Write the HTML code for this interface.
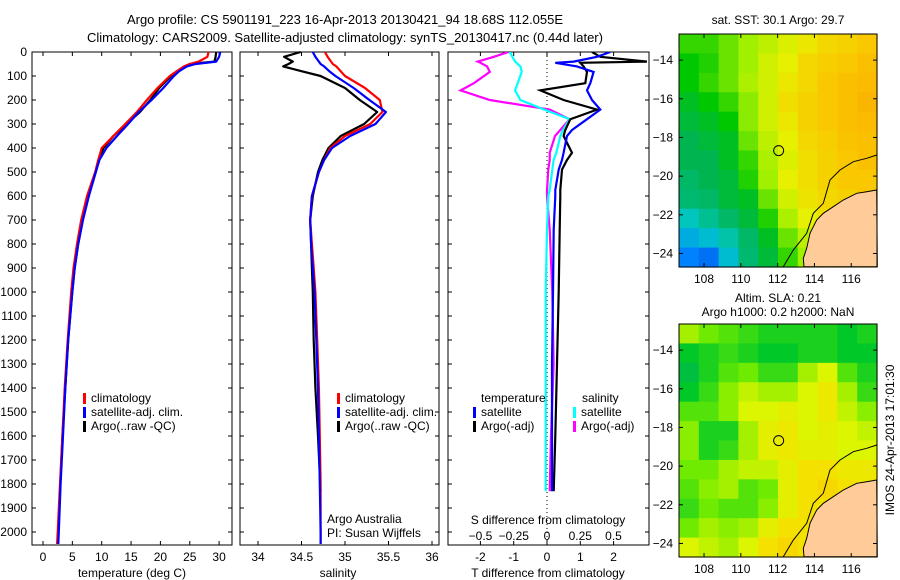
<!DOCTYPE html>
<html><head><meta charset="utf-8"><style>
body{margin:0;background:#fff}
svg{display:block;font-family:"Liberation Sans",sans-serif;font-size:12px}
</style></head><body>
<svg id="fig" width="900" height="580" xmlns="http://www.w3.org/2000/svg">
<text x="345" y="24" text-anchor="middle" font-size="13">Argo profile: CS 5901191_223 16-Apr-2013 20130421_94 18.68S 112.055E</text>
<text x="345" y="42" text-anchor="middle" font-size="13">Climatology: CARS2009. Satellite-adjusted climatology: synTS_20130417.nc (0.44d later)</text>
<g id="g"></g>
</svg>
<script>
// ---- profile data ----
const depthT=[0,20,40,50,60,80,100,150,200,250,300,350,400,450,500,600,700,800,900,1000,1200,1400,1600,1800,2000,2050];
const climT=[28.2,28,26.5,25,24,22.8,21.6,19.5,17.7,16,14,12,10,9.4,8.9,7.5,6.5,5.8,5.2,4.8,4.2,3.7,3.3,2.9,2.5,2.4];
const satT=[30.2,30,29.5,26,24.5,23.2,22.3,20.5,18.5,16.3,14.5,12.6,10.8,9.6,9,7.8,6.8,6,5.4,5,4.3,3.8,3.4,3,2.7,2.6];
const depthA=[0,20,40,50,60,80,100,150,200,250,300,350,400,450,500,600,700,800,900,1000,1200,1400,1600,1830];
const argoT=[29.5,29.4,29.2,25,24.2,23,21.8,19.8,18.3,16.5,14.2,12,10.3,9.5,9,7.8,6.8,6,5.4,5,4.3,3.8,3.3,2.9];
const climS=[34.77,34.8,34.84,34.86,34.9,34.95,35.0,35.23,35.4,35.43,35.29,35.0,34.83,34.76,34.7,34.62,34.6,34.62,34.64,34.66,34.68,34.7,34.71,34.72,34.72,34.72];
const satS=[34.63,34.66,34.7,34.72,34.76,34.82,34.89,35.1,35.28,35.47,35.35,35.06,34.85,34.76,34.7,34.62,34.6,34.61,34.63,34.65,34.67,34.69,34.7,34.71,34.72,34.72];
const argoS=[34.49,34.3,34.4,34.35,34.29,34.5,34.72,35.0,35.17,35.37,35.22,34.95,34.81,34.74,34.69,34.63,34.6,34.61,34.62,34.63,34.64,34.66,34.69,34.72];
const depthD=[0,20,40,45,60,83,130,160,200,240,280,325,350,420,450,490,575,600,740,1000,1300,1600,1830];
const satTd=[1.9,1.5,0.8,0.25,0.9,1.4,1.3,1.2,1.35,1.6,1.2,0.75,0.6,0.5,0.45,0.35,0.25,0.25,0.2,0.18,0.15,0.15,0.15];
const argoTd=[1.35,1.6,3.0,1.0,1.1,1.2,1.15,-0.2,0.5,1.5,0.7,0.55,0.5,0.75,0.6,0.45,0.4,0.4,0.38,0.35,0.3,0.25,0.2];
const satSd=[-0.28,-0.26,-0.24,-0.23,-0.2,-0.19,-0.22,-0.24,-0.2,-0.02,0.17,0.12,0.1,0.07,0.05,0.04,0.02,0.01,0,-0.01,-0.01,-0.01,-0.01];
const argoSd=[-0.29,-0.4,-0.52,-0.5,-0.45,-0.43,-0.55,-0.65,-0.43,0.02,0.17,0.1,0.06,0.02,0.02,0.01,0,0,0.02,0.04,0.05,0.03,0.02];
const tempTicks=[0,5,10,15,20,25,30];
const salTicks=[34,34.5,35,35.5,36];
const tdTicks=[-2,-1,0,1,2];
const sdTicks=[-0.5,-0.25,0,0.25,0.5];
const depthTicks=[0,100,200,300,400,500,600,700,800,900,1000,1100,1200,1300,1400,1500,1600,1700,1800,1900,2000];
// ---- map data (colour index 0..1, rows north->south) ----
const sstGrid=[
[.5,.5,.55,.6,.65,.7,.75,.8,.82,.85],[.45,.48,.55,.6,.68,.72,.8,.83,.85,.88],[.45,.5,.55,.62,.68,.75,.8,.85,.88,.9],
[.42,.45,.5,.58,.68,.78,.82,.85,.88,.92],[.4,.42,.45,.58,.68,.75,.82,.85,.88,.9],[.38,.4,.42,.55,.65,.72,.8,.83,.87,.88],
[.38,.38,.42,.5,.62,.7,.78,.82,.85,.88],[.36,.38,.4,.48,.6,.72,.78,.82,.85,.85],[.35,.36,.4,.42,.55,.68,.76,.8,.82,.85],
[.28,.32,.36,.4,.48,.62,.72,.78,.8,.8],[.22,.25,.3,.36,.42,.55,.65,.7,.75,.75],[.15,.12,.25,.35,.4,.5,.6,.7,.7,.7]];
const slaGrid=[
[.6,.5,.45,.4,.35,.35,.35,.35,.3,.35],[.3,.35,.4,.35,.3,.3,.35,.35,.3,.3],[.2,.35,.45,.5,.4,.4,.6,.7,.45,.35],
[.3,.4,.55,.65,.6,.6,.7,.8,.6,.4],[.45,.45,.55,.7,.7,.75,.7,.8,.65,.55],[.55,.35,.35,.6,.75,.8,.7,.75,.7,.65],
[.55,.35,.4,.6,.75,.8,.75,.75,.7,.7],[.5,.5,.6,.65,.65,.75,.85,.85,.8,.8],[.45,.55,.6,.45,.5,.75,.85,.9,.85,.8],
[.4,.5,.45,.45,.55,.75,.85,.85,.8,.8],[.5,.6,.55,.6,.75,.85,.85,.85,.8,.8],[.7,.65,.6,.7,.85,.9,.85,.85,.8,.8]];
const lonTicks=[108,110,112,114,116];
const latTicks=[-14,-16,-18,-20,-22,-24];
const argoLon=112.055, argoLat=-18.68;

const NS="http://www.w3.org/2000/svg";
const G=document.getElementById('g');
function mk(t,a,p){const e=document.createElementNS(NS,t);for(const k in a)e.setAttribute(k,a[k]);(p||G).appendChild(e);return e;}
function txt(x,y,s,anchor,p){const e=mk('text',{x:x,y:y,'text-anchor':anchor||'start'},p);e.textContent=s;return e;}
const Y0=52,Y1=545;
const yD=d=>Y0+d*0.24;
function panel(x0,x1,name){
  const r=mk('rect',{x:x0,y:Y0,width:x1-x0,height:Y1-Y0,fill:'none',stroke:'#000'});
  
  
  depthTicks.forEach(d=>{mk('line',{x1:x0,x2:x0+4,y1:yD(d),y2:yD(d),stroke:'#000'});mk('line',{x1:x1,x2:x1-4,y1:yD(d),y2:yD(d),stroke:'#000'});});
}
function xticks(vals,fx,labels,ly){
  vals.forEach((v,i)=>{const x=fx(v);mk('line',{x1:x,x2:x,y1:Y1,y2:Y1-4,stroke:'#000'});mk('line',{x1:x,x2:x,y1:Y0,y2:Y0+4,stroke:'#000'});
    if(labels){const t=txt(x,ly,labels[i],'middle');}});
}
function line(ds,vs,fx,col,name){
  const p=mk('polyline',{points:ds.map((d,i)=>fx(vs[i]).toFixed(1)+','+yD(d).toFixed(1)).join(' '),fill:'none',stroke:col,'stroke-width':2.2,'stroke-linejoin':'round'});
  
  
}
function legend(x,y,col,label){
  mk('rect',{x:x,y:y-5,width:3,height:11,fill:col});
  const t=txt(x+8,y+4,label);
  
  
}
// panel 1
const xTmp=v=>43+v*5.87;
panel(32,232,'temperature-panel');
depthTicks.forEach(d=>{const t=txt(27,yD(d)+4,String(d),'end');});
xticks(tempTicks,xTmp,tempTicks.map(String),561);
line(depthA,argoT,xTmp,'#000','argo-temperature-line');
line(depthT,climT,xTmp,'#f00','clim-temperature-line');
line(depthT,satT,xTmp,'#00f','sat-temperature-line');
legend(83,398,'#f00','climatology');legend(83,412,'#00f','satellite-adj. clim.');legend(83,426,'#000','Argo(..raw -QC)');
const xl1=txt(132,577,'temperature (deg C)','middle');
// panel 2
const xSal=v=>258+(v-34)*87;
panel(240,439,'salinity-panel');
xticks(salTicks,xSal,salTicks.map(String),561);
line(depthA,argoS,xSal,'#000','argo-salinity-line');
line(depthT,climS,xSal,'#f00','clim-salinity-line');
line(depthT,satS,xSal,'#00f','sat-salinity-line');
legend(337,398,'#f00','climatology');legend(337,412,'#00f','satellite-adj. clim.');legend(337,426,'#000','Argo(..raw -QC)');
txt(327,523,'Argo Australia');txt(327,530+7,'PI: Susan Wijffels');
const xl2=txt(338,577,'salinity','middle');
// panel 3
const xTd=v=>547+v*33.3, xSd=v=>547+v*133;
panel(448,649,'difference-panel');
mk('line',{x1:547,x2:547,y1:Y0,y2:Y1,stroke:'#000','stroke-dasharray':'1,3'});
xticks(tdTicks,xTd,tdTicks.map(String),561);
sdTicks.forEach(v=>{const t=txt(xSd(v),540,String(v).replace('-','\u2212'),'middle');});
const cp=mk('clipPath',{id:'c3'});mk('rect',{x:448,y:Y0,width:201,height:Y1-Y0},cp);
const gg=mk('g',{'clip-path':'url(#c3)'});
const oldG=G;
function line3(ds,vs,fx,col,name){const p=mk('polyline',{points:ds.map((d,i)=>fx(vs[i]).toFixed(1)+','+yD(d).toFixed(1)).join(' '),fill:'none',stroke:col,'stroke-width':2.2},gg);}
line3(depthD,argoSd,xSd,'#f0f','argo-salinity-diff-line');
line3(depthD,satSd,xSd,'#0ff','sat-salinity-diff-line');
line3(depthD,argoTd,xTd,'#000','argo-temperature-diff-line');
line3(depthD,satTd,xTd,'#00f','sat-temperature-diff-line');
txt(481,402,'temperature');txt(582,402,'salinity');
legend(473,412,'#00f','satellite');legend(473,426,'#000','Argo(-adj)');
legend(573,412,'#0ff','satellite');legend(573,426,'#f0f','Argo(-adj)');
txt(548,524,'S difference from climatology','middle');
const xl3=txt(548,577,'T difference from climatology','middle');
// maps
const LON0=106.64,LON1=117.4,LAT0=-12.65,LAT1=-24.7;
function sstCol(v){const st=[[0,[0,40,200]],[.15,[0,130,255]],[.27,[0,200,200]],[.38,[0,180,80]],[.45,[0,200,0]],[.6,[160,240,0]],[.72,[230,240,0]],[.85,[250,200,0]],[1,[250,160,0]]];return interp(st,v);}
function slaCol(v){const st=[[0,[0,170,110]],[.3,[0,200,40]],[.5,[110,235,0]],[.7,[220,245,0]],[.85,[245,225,0]],[1,[250,195,0]]];return interp(st,v);}
function interp(st,v){for(let i=1;i<st.length;i++)if(v<=st[i][0]){const a=st[i-1],b=st[i],t=(v-a[0])/(b[0]-a[0]);return 'rgb('+a[1].map((c,k)=>Math.round(c+(b[1][k]-c)*t)).join(',')+')';}return 'rgb('+st[st.length-1][1].join(',')+')';}
const landPts=[[462,800],[460,775],[470,745],[480,700],[490,680],[500,660],[520,640],[550,620],[580,600],[620,580],[650,575],[680,570],[682,800]];
const contour=[[400,800],[430,750],[470,700],[490,640],[520,610],[540,540],[570,510],[610,485],[650,475],[680,465]];
function map(top,grid,colf,name,t1,t2){
  const L=679,R=877,T=top,B=top+233;
  const fx=lon=>L+(lon-LON0)/(LON1-LON0)*(R-L), fy=lat=>T+(lat-LAT0)/(LAT1-LAT0)*(B-T);
  const g=mk('g',{});
  const nr=grid.length,nc=grid[0].length,cw=(R-L)/nc,ch=(B-T)/nr;
  grid.forEach((row,r)=>row.forEach((v,c)=>{const e=mk('rect',{x:L+c*cw,y:T+r*ch,width:cw+0.6,height:ch+0.6,fill:colf(v)},g);}));
  const off=top-34;
  mk('polygon',{points:landPts.map(p=>(650+p[0]/3).toFixed(1)+','+(p[1]/3+off).toFixed(1)).join(' '),fill:'#fc9',stroke:'#000','stroke-width':1},g);
  mk('polyline',{points:contour.map(p=>(650+p[0]/3).toFixed(1)+','+(p[1]/3+off).toFixed(1)).join(' '),fill:'none',stroke:'#000','stroke-width':1},g);
  mk('rect',{x:L,y:T,width:R-L,height:B-T,fill:'none',stroke:'#000'},g);
  lonTicks.forEach(l=>{const x=fx(l);mk('line',{x1:x,x2:x,y1:T,y2:T+4,stroke:'#000'},g);mk('line',{x1:x,x2:x,y1:B,y2:B-4,stroke:'#000'},g);txt(x,B+16,String(l),'middle',g);});
  latTicks.forEach(l=>{const y=fy(l);mk('line',{x1:L,x2:L+4,y1:y,y2:y,stroke:'#000'},g);mk('line',{x1:R,x2:R-4,y1:y,y2:y,stroke:'#000'},g);txt(673,y+4,'\u2212'+String(-l),'end',g);});
  const c=mk('circle',{cx:fx(argoLon),cy:fy(argoLat),r:5,fill:'none',stroke:'#000'},g);
  if(t2){txt(778,top-22,t1,'middle',g);txt(778,top-8,t2,'middle',g);}else txt(778,top-10,t1,'middle',g);
}
map(34,sstGrid,sstCol,'sst-map','sat. SST: 30.1 Argo: 29.7');
map(324,slaGrid,slaCol,'sla-map','Altim. SLA: 0.21','Argo h1000: 0.2 h2000: NaN');
const rt=txt(0,0,'IMOS 24-Apr-2013 17:01:30','middle');
rt.setAttribute('transform','translate(894,440) rotate(-90)');


</script>
</body></html>
